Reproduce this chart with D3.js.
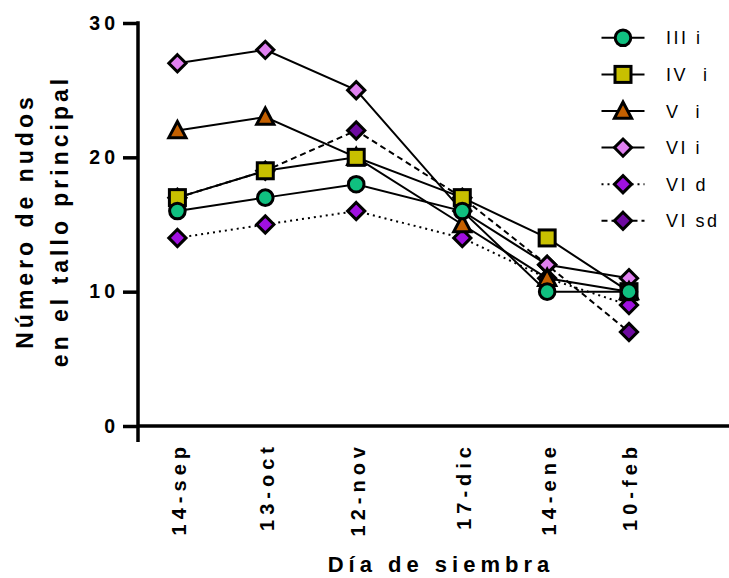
<!DOCTYPE html>
<html>
<head>
<meta charset="utf-8">
<script src="https://cdn.jsdelivr.net/npm/d3@7"></script>
<style>
  html, body { margin: 0; padding: 0; background: #fff; }
  svg { display: block; }
  text { font-family: "Liberation Sans", Arial, sans-serif; }
</style>
</head>
<body>
<svg id="chart" width="729" height="578"></svg>
<script>
// ---- data ----
const dateStrings = ["2016-09-14", "2016-10-13", "2016-11-12", "2016-12-17", "2017-01-14", "2017-02-10"];
const dateLabels = ["14-sep", "13-oct", "12-nov", "17-dic", "14-ene", "10-feb"];
const seriesNames = ["III i", "IV  i", "V  i", "VI i", "VI d", "VI sd"];
const III_i = [16, 17, 18, 16, 10, 10];
const IV_i  = [17, 19, 20, 17, 14, 10];
const V_i   = [22, 23, 20, 15, 11, 10];
const VI_i  = [27, 28, 25, 16, 12, 11];
const VI_d  = [14, 15, 16, 14, 11, 9];
const VI_sd = [17, 19, 22, 17, 12, 7];
const yTicks = [0, 10, 20, 30];

// ---- styles ----
const styles = [
  { shape: "circle",   fill: "#10c080", dash: null },
  { shape: "square",   fill: "#c8c000", dash: null },
  { shape: "triangle", fill: "#c46000", dash: null },
  { shape: "diamond",  fill: "#e080f0", dash: null },
  { shape: "diamond",  fill: "#a010e0", dash: "2,4" },
  { shape: "diamond",  fill: "#6e0aa0", dash: "6,4" }
];
const allValues = [III_i, IV_i, V_i, VI_i, VI_d, VI_sd];
const parse = d3.timeParse("%Y-%m-%d");
const dates = dateStrings.map(parse);
const series = seriesNames.map((n, i) => ({
  name: n, style: styles[i],
  points: dates.map((d, j) => ({ date: d, value: allValues[i][j] }))
}));

const svg = d3.select("#chart");
const axisX0 = 138, axisX1 = 729, yTop = 23, yBottom = 426;

const x = d3.scaleTime()
  .domain([parse("2016-09-01"), parse("2017-03-15")])
  .range([axisX0, axisX1]);
const y = d3.scaleLinear().domain([0, 30]).range([yBottom, yTop]);

// ---- axes ----
const yAxis = d3.axisLeft(y).tickValues(yTicks).tickSize(15).tickPadding(6).tickFormat(d3.format("d"));
const gy = svg.append("g").attr("transform", `translate(${axisX0},0)`).call(yAxis);
gy.select(".domain").remove();
gy.selectAll(".tick line").attr("stroke", "#000").attr("stroke-width", 3.5);
gy.selectAll(".tick text")
  .attr("font-size", 19.5).attr("font-weight", "bold").attr("fill", "#000")
  .attr("letter-spacing", 4).attr("x", -19);

// axis lines
svg.append("line").attr("x1", axisX0).attr("x2", axisX0)
  .attr("y1", y(30) - 1.75).attr("y2", yBottom + 16)
  .attr("stroke", "#000").attr("stroke-width", 3.5);
svg.append("line").attr("x1", axisX0).attr("x2", axisX1)
  .attr("y1", yBottom).attr("y2", yBottom)
  .attr("stroke", "#000").attr("stroke-width", 3.5);

const xAxis = d3.axisBottom(x).tickValues(dates).tickSize(0)
  .tickFormat((d, i) => dateLabels[i]);
const gx = svg.append("g").attr("transform", `translate(0,${yBottom})`).call(xAxis);
gx.select(".domain").remove();
gx.selectAll(".tick text")
  .attr("font-size", 20).attr("font-weight", "bold").attr("fill", "#000")
  .attr("letter-spacing", 5)
  .attr("text-anchor", "end")
  .attr("x", 0).attr("y", 0).attr("dy", 0)
  .attr("transform", "translate(8,16) rotate(-90)");

// axis titles
svg.append("text").attr("transform", "translate(33,221) rotate(-90)")
  .attr("text-anchor", "middle").attr("font-size", 23).attr("font-weight", "bold")
  .attr("letter-spacing", 4).text("Número de nudos");
svg.append("text").attr("transform", "translate(68,221) rotate(-90)")
  .attr("text-anchor", "middle").attr("font-size", 23).attr("font-weight", "bold")
  .attr("letter-spacing", 4).text("en el tallo principal");
svg.append("text").attr("x", 441).attr("y", 572)
  .attr("text-anchor", "middle").attr("font-size", 22).attr("font-weight", "bold")
  .attr("letter-spacing", 5).text("Día de siembra");

// ---- marker drawing ----
function drawMarker(g, shape, fill) {
  let el;
  if (shape === "circle") {
    el = g.append("circle").attr("r", 7.8);
  } else if (shape === "square") {
    el = g.append("rect").attr("x", -8).attr("y", -8).attr("width", 16).attr("height", 16);
  } else if (shape === "triangle") {
    el = g.append("path").attr("d", "M0,-9 L8.6,7.2 L-8.6,7.2 Z");
  } else {
    el = g.append("path").attr("d", "M0,-8.6 L8.6,0 L0,8.6 L-8.6,0 Z");
  }
  el.attr("fill", fill).attr("stroke", "#000").attr("stroke-width", 3).attr("stroke-linejoin", "miter");
}

const line = d3.line().x(d => x(d.date)).y(d => y(d.value));
const order = series.slice().reverse();

const linesG = svg.append("g");
order.forEach(s => {
  linesG.append("path").attr("d", line(s.points))
    .attr("fill", "none").attr("stroke", "#000").attr("stroke-width", 2)
    .attr("stroke-dasharray", s.style.dash);
});
const marksG = svg.append("g");
order.forEach(s => {
  s.points.forEach(p => {
    const g = marksG.append("g").attr("transform", `translate(${x(p.date)},${y(p.value)})`);
    drawMarker(g, s.style.shape, s.style.fill);
  });
});

// ---- legend ----
const legend = svg.append("g");
series.forEach((s, i) => {
  const cy = 37.8 + i * 36.6;
  const g = legend.append("g").attr("transform", `translate(623,${cy})`);
  g.append("line").attr("x1", -21.5).attr("x2", 21.5).attr("y1", 0).attr("y2", 0)
    .attr("stroke", "#000").attr("stroke-width", 2).attr("stroke-dasharray", s.style.dash);
  drawMarker(g, s.style.shape, s.style.fill);
  g.append("text").attr("x", 43).attr("y", 6.5)
    .attr("font-size", 18).attr("letter-spacing", 2.5)
    .style("white-space", "pre").text(s.name);
});
</script>
</body>
</html>
